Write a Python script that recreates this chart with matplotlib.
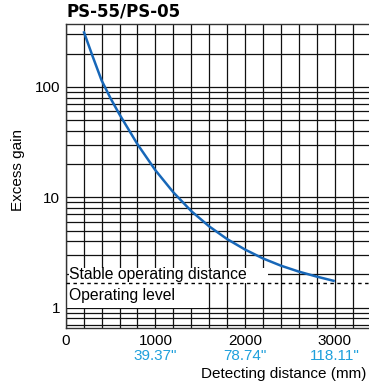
import matplotlib
matplotlib.use("Agg")
from matplotlib import pyplot as plt
from matplotlib.patches import Rectangle
from matplotlib.ticker import FixedLocator, FuncFormatter, LogLocator, MultipleLocator, NullFormatter
import matplotlib.transforms as mtransforms

plt.rcParams["font.family"] = ["Liberation Sans", "DejaVu Sans"]
plt.rcParams["font.size"] = 11

# curve
distance_mm = [200, 300, 400, 500, 600, 800, 1000, 1200, 1400, 1600, 1800, 2000, 2200, 2400, 2600, 2800, 3000]
excess_gain = [320, 190, 115, 79, 56.4, 30.3, 17.6, 11.1, 7.5, 5.45, 4.18, 3.36, 2.79, 2.40, 2.12, 1.91, 1.74]

x_ticks = [0, 1000, 2000, 3000]
inch_labels = ['39.37"', '78.74"', '118.11"']
y_ticks = [1, 10, 100]
y_tick_labels = ["1", "10", "100"]
operating_level = 1.66

BLUE = "#1767b8"
CYAN = "#1ea0dc"

fig = plt.figure(figsize=(3.69, 3.87), dpi=100)
ax = fig.add_axes([0.178, 0.1517, 0.8266, 0.7855])

ax.set_yscale("log")
ax.set_xlim(0, 3400)
ax.set_ylim(0.65, 370)

ax.xaxis.set_major_locator(FixedLocator(x_ticks))
ax.xaxis.set_minor_locator(MultipleLocator(200))
ax.yaxis.set_major_locator(FixedLocator(y_ticks))
ax.yaxis.set_major_formatter(FuncFormatter(lambda v, p: y_tick_labels[y_ticks.index(round(v))] if round(v) in y_ticks else ""))
ax.yaxis.set_minor_locator(LogLocator(base=10, subs=range(2, 10)))
ax.yaxis.set_minor_formatter(NullFormatter())

ax.grid(True, which="both", color="#111111", linewidth=0.9)
ax.set_axisbelow(True)
ax.tick_params(which="both", length=0, labelsize=11, colors="black")
ax.tick_params(axis="x", pad=4)
ax.tick_params(axis="y", pad=4)

for side in ("left", "bottom", "top"):
    ax.spines[side].set_color("#333333")
    ax.spines[side].set_linewidth(1.0)
ax.spines["right"].set_visible(False)

# white boxes behind the two labels
ax.add_patch(Rectangle((35, operating_level), 2215, 2.29 - operating_level,
                       facecolor="white", edgecolor="none", zorder=2))
ax.add_patch(Rectangle((0, 0.995), 1580, operating_level - 0.995,
                       facecolor="white", edgecolor="none", zorder=2))

ax.axhline(operating_level, color="black", linewidth=1.0, linestyle=(0, (2.5, 2.5)), zorder=3)
ax.text(40, 1.98, "Stable operating distance", ha="left", va="center", fontsize=11.3, zorder=4)
ax.text(40, 1.29, "Operating level", ha="left", va="center", fontsize=11.3, zorder=4)

ax.plot(distance_mm, excess_gain, color=BLUE, linewidth=1.8, zorder=5,
        solid_joinstyle="round", solid_capstyle="butt")

trans = mtransforms.blended_transform_factory(ax.transData, ax.transAxes)
for x, lab in zip(x_ticks[1:], inch_labels):
    ax.text(x, -0.091, lab, transform=trans, ha="center", va="center", color=CYAN, fontsize=11)

ax.set_ylabel("Excess gain", fontsize=11)
ax.yaxis.set_label_coords(-0.133, 0.52)
fig.text(366 / 369, 1 - 374 / 387, "Detecting distance (mm)", ha="right", va="center", fontsize=11)
fig.text(66 / 369, 1 - 12 / 387, "PS-55/PS-05", ha="left", va="center",
         fontsize=12, fontweight="bold", family=["DejaVu Sans"])

fig.savefig("out.png", dpi=100)
